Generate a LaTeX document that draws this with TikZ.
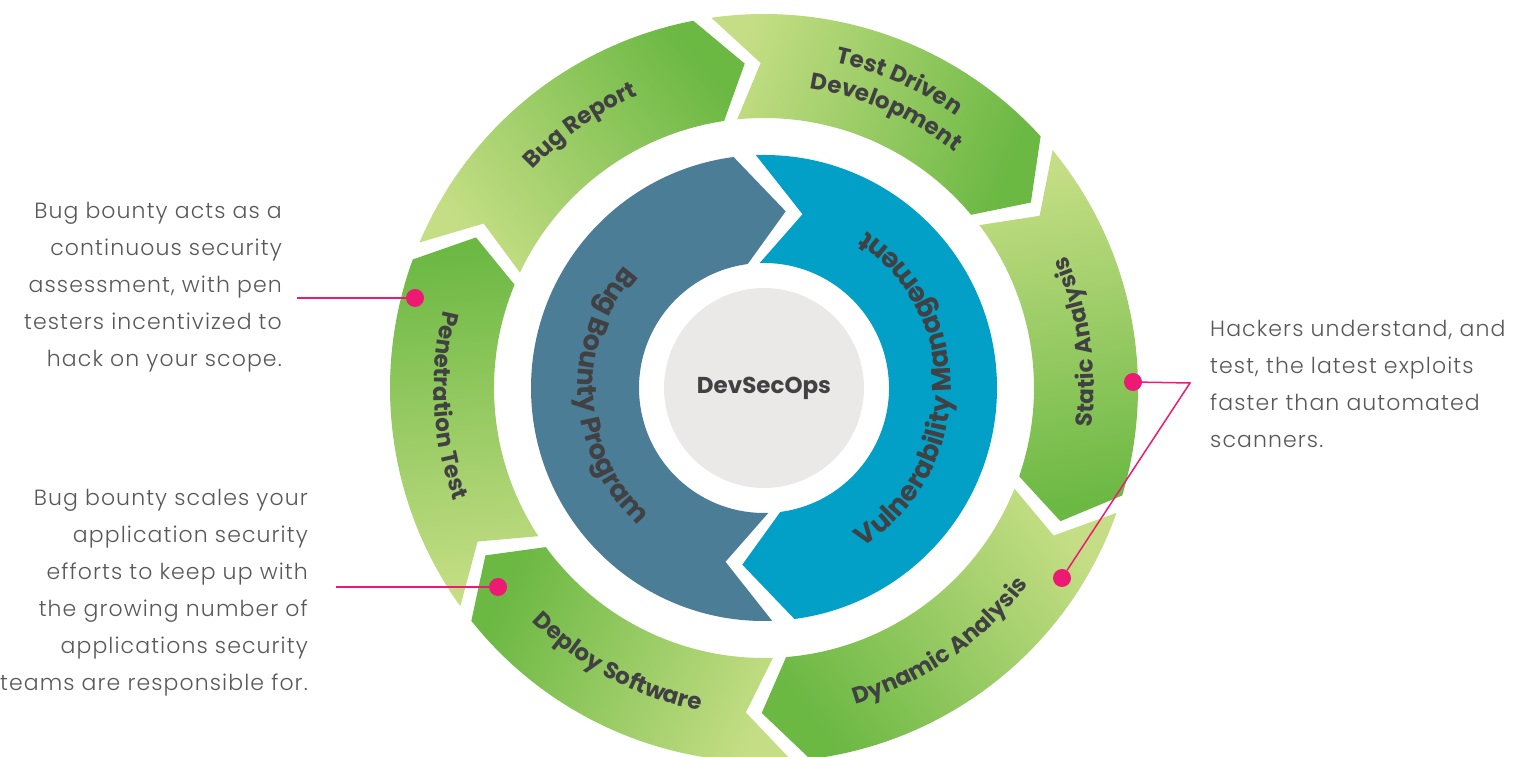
\documentclass[tikz,border=0pt]{standalone}
\usepackage{fontspec}
\setmainfont{Poppins}
\newfontfamily\labelfont{Poppins Bold}
\newfontfamily\notefont{Poppins Light}[LetterSpace=5]
\usetikzlibrary{calc,decorations.text,positioning}

\definecolor{greenlight}{HTML}{C5DE85}
\definecolor{greendark}{HTML}{6BB843}
\definecolor{bountyblue}{HTML}{4B7D96}
\definecolor{vulncyan}{HTML}{02A0C7}
\definecolor{coregray}{HTML}{EAE9E8}
\definecolor{labelgray}{HTML}{414042}
\definecolor{notegray}{HTML}{58585A}
\definecolor{calloutpink}{HTML}{EC1A73}

\newcommand{\segfont}{\labelfont\fontsize{23}{27}\selectfont\color{labelgray}}
\newcommand{\ringfont}{\labelfont\fontsize{27}{31}\selectfont\color{labelgray}}

% chevron piece of a ring: start edge, end edge, inner r, tip r, outer r, tip depth, edge tilt
\newcommand{\ringpiece}[7]{($(C)+({#1+#7}:#5)$) arc[start angle={#1+#7}, end angle={#2+#7}, radius=#5pt]
  -- ($(C)+({#2-#6}:#4)$) -- ($(C)+({#2-#7}:#3)$) arc[start angle={#2-#7}, end angle={#1-#7}, radius=#3pt]
  -- ($(C)+({#1-#6}:#4)$) -- cycle}

\tikzset{
  leaf/.style={top color=greendark, bottom color=greenlight},
  core/.style={circle, fill=coregray, minimum size=200pt, inner sep=0pt,
    font=\labelfont\fontsize{23}{27}\selectfont, text=labelgray},
  dot/.style={circle, fill=calloutpink, inner sep=0pt, minimum size=18pt},
  callout/.style={draw=calloutpink, line width=1.5pt},
  note/.style={font=\notefont\fontsize{22}{37}\selectfont, text=notegray, inner sep=0pt},
}

\begin{document}
\begin{tikzpicture}[x=1pt, y=1pt]
  \useasboundingbox (0,0) rectangle (1518,757);
  \coordinate (C) at (764,369);

  % outer ring, six steps running clockwise
  \shade[leaf, shading angle=6.6] \ringpiece{214.5}{158.7}{270}{325}{374}{6.3}{1.2};
  \shade[leaf, shading angle=-52.2] \ringpiece{155.9}{99.7}{270}{325}{374}{6.3}{1.2};
  \shade[leaf, shading angle=-111] \ringpiece{96.9}{41.1}{270}{325}{374}{6.3}{1.2};
  \shade[leaf, shading angle=-169.8] \ringpiece{38.3}{-17.9}{270}{325}{374}{6.3}{1.2};
  \shade[leaf, shading angle=127.6] \ringpiece{-20.7}{-84.1}{270}{325}{374}{6.3}{1.2};
  \shade[leaf, shading angle=65.2] \ringpiece{273.1}{217.3}{270}{325}{374}{6.3}{1.2};

  % middle ring
  \fill[bountyblue] \ringpiece{272}{97.5}{125}{178}{233}{14.5}{0};
  \fill[vulncyan] \ringpiece{92}{-82.5}{125}{178}{233}{14.5}{0};

  % center
  \node[core] (core) at (C) {DevSecOps};

  % labels of the outer ring
  \path[decorate, decoration={text along path, text align=center, text={|\segfont|Bug Report}}]
    ($(C)+(185:318)$) arc[start angle=185, end angle=65, radius=318pt];
  \path[decorate, decoration={text along path, text align=center, text={|\segfont|Test Driven}}]
    ($(C)+(126.2:333)$) arc[start angle=126.2, end angle=6.2, radius=333pt];
  \path[decorate, decoration={text along path, text align=center, text={|\segfont|Development}}]
    ($(C)+(126.2:303)$) arc[start angle=126.2, end angle=6.2, radius=303pt];
  \path[decorate, decoration={text along path, text align=center, text={|\segfont|Static Analysis}}]
    ($(C)+(-51.6:330)$) arc[start angle=-51.6, end angle=68.4, radius=330pt];
  \path[decorate, decoration={text along path, text align=center, text={|\segfont|Dynamic Analysis}}]
    ($(C)+(-115.2:329)$) arc[start angle=-115.2, end angle=4.8, radius=329pt];
  \path[decorate, decoration={text along path, text align=center, text={|\segfont|Deploy Software}}]
    ($(C)+(182:329)$) arc[start angle=182, end angle=302, radius=329pt];
  \path[decorate, decoration={text along path, text align=center, text={|\segfont|Penetration Test}}]
    ($(C)+(123.2:330)$) arc[start angle=123.2, end angle=243.2, radius=330pt];

  % labels of the middle ring
  \path[decorate, decoration={text along path, text align=center, text={|\ringfont|Bug Bounty Program}}]
    ($(C)+(93:186)$) arc[start angle=93, end angle=273, radius=186pt];
  \path[decorate, decoration={text along path, text align=center, text={|\ringfont|Vulnerability Management}}]
    ($(C)+(-90.6:187)$) arc[start angle=-90.6, end angle=89.4, radius=187pt];

  % notes
  \node[note, anchor=east, align=right] (noteScan) at (282,470)
    {Bug bounty acts as a\\continuous security\\assessment, with pen\\testers incentivized to\\hack on your scope.};
  \node[note, anchor=east, align=right] (noteScale) at (308,164)
    {Bug bounty scales your\\application security\\efforts to keep up with\\the growing number of\\applications security\\teams are responsible for.};
  \node[note, anchor=west, align=left] (noteHack) at (1210,373)
    {Hackers understand, and\\test, the latest exploits\\faster than automated\\scanners.};

  % callouts
  \node[dot] (dotPen) at (415,459) {};
  \node[dot] (dotDeploy) at (498,170) {};
  \node[dot] (dotStatic) at (1133,375) {};
  \node[dot] (dotDynamic) at (1062,179) {};
  \coordinate (lnScan) at (297,459);
  \coordinate (lnScale) at (336,170);
  \coordinate (elbow) at (1190,374);
  \draw[callout] (lnScan) -- (dotPen);
  \draw[callout] (lnScale) -- (dotDeploy);
  \draw[callout] (dotStatic) -- (elbow) -- (dotDynamic);
\end{tikzpicture}
\end{document}
